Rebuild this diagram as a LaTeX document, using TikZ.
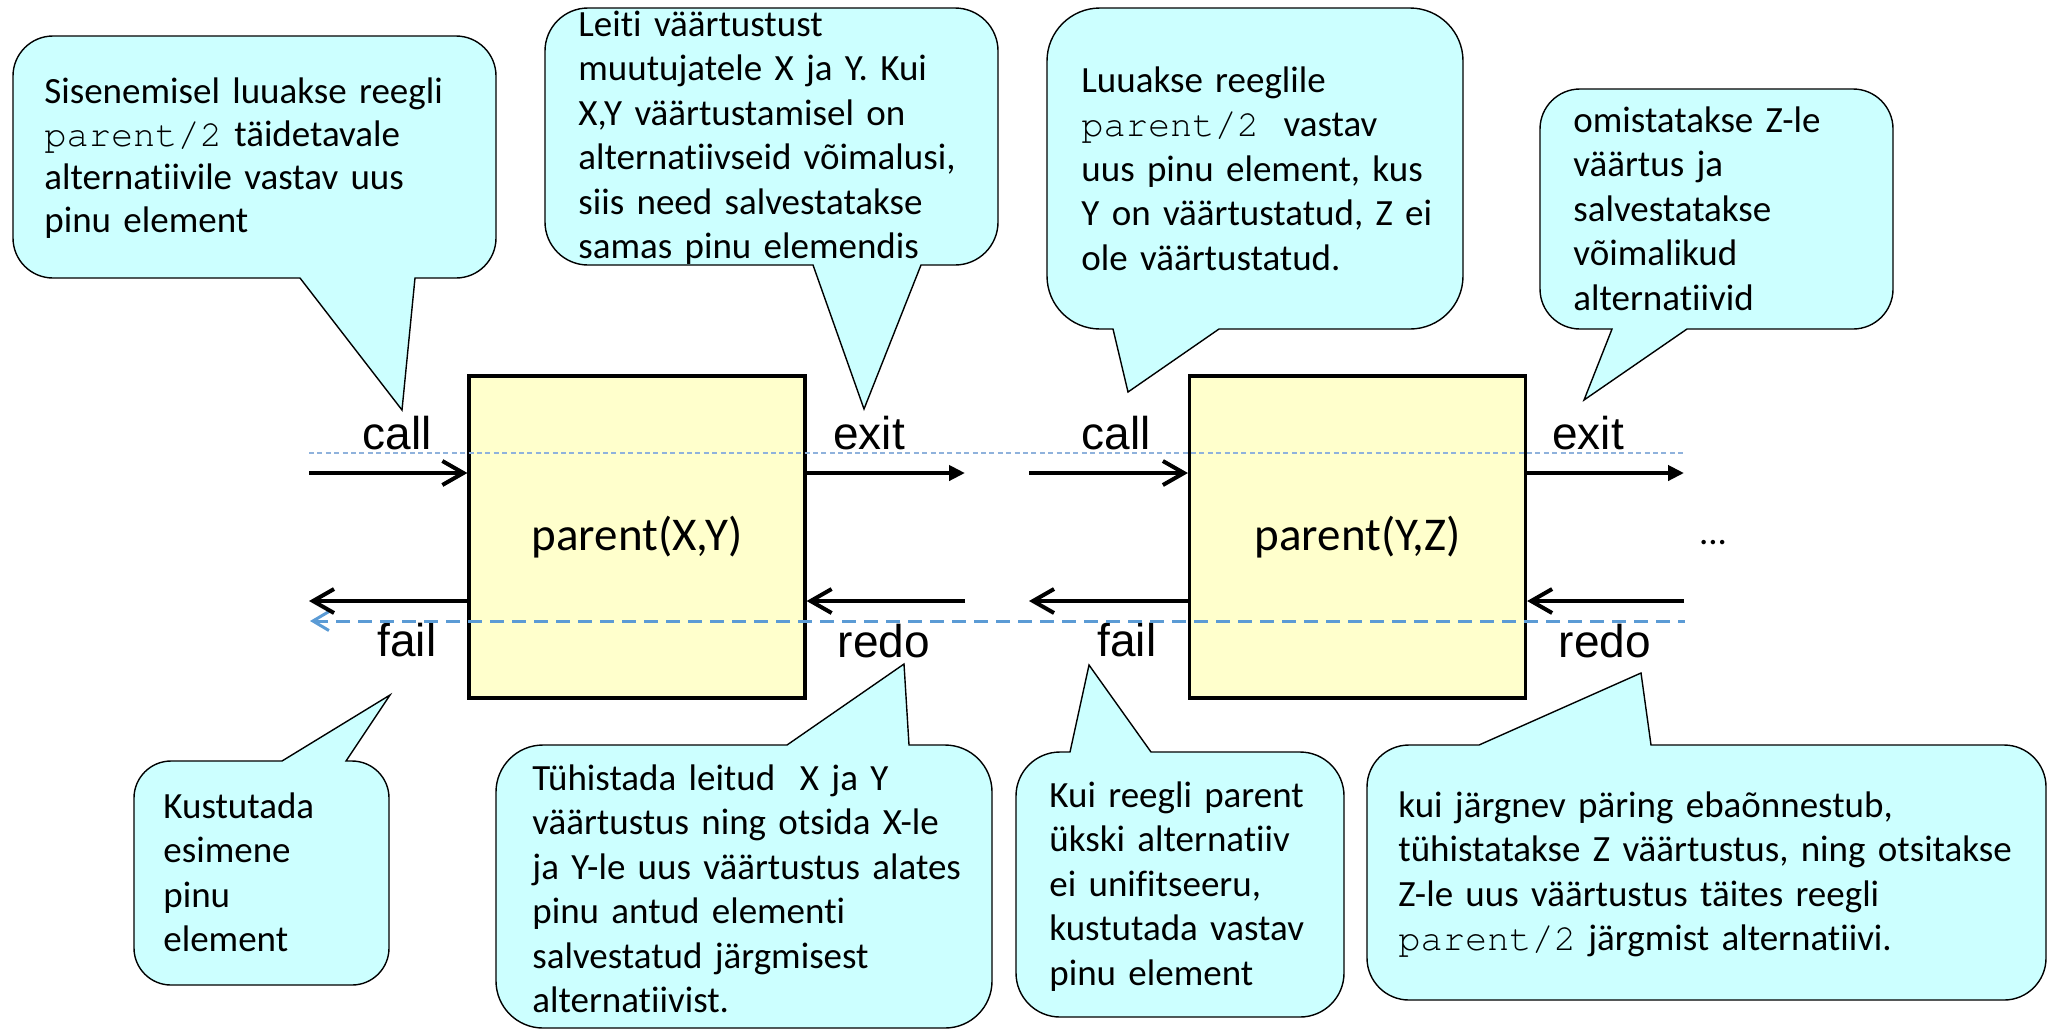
\documentclass[tikz,border=0pt]{standalone}
\usepackage{fontspec}
\setmainfont{Carlito}[Ligatures={NoCommon}]
\newfontfamily\labfont{Liberation Sans}
\newfontfamily\monofont{texgyrecursor-regular.otf}
\usetikzlibrary{arrows.meta}
\definecolor{callfill}{HTML}{CCFFFF}
\definecolor{boxfill}{HTML}{FFFFCC}
\definecolor{dotblue}{RGB}{143,178,220}
\definecolor{dashblue}{HTML}{5B9BD5}
\newcommand\mono[1]{{\monofont #1}}
% tail on bottom edge: l t r b x1 x2 tipx tipy R
\newcommand\calloutdown[9]{%
 \draw[callout] (#5,#4) -- (#7,#8) -- (#6,#4) -- ({#3-#9},#4) .. controls ({#3-0.448*#9},#4) and (#3,{#4-0.448*#9}) .. (#3,{#4-#9}) -- (#3,{#2+#9}) .. controls (#3,{#2+0.448*#9}) and ({#3-0.448*#9},#2) .. ({#3-#9},#2) -- ({#1+#9},#2) .. controls ({#1+0.448*#9},#2) and (#1,{#2+0.448*#9}) .. (#1,{#2+#9}) -- (#1,{#4-#9}) .. controls (#1,{#4-0.448*#9}) and ({#1+0.448*#9},#4) .. ({#1+#9},#4) -- cycle;}
% tail on top edge: l t r b x1 x2 tipx tipy R
\newcommand\calloutup[9]{%
 \draw[callout] (#5,#2) -- (#7,#8) -- (#6,#2) -- ({#3-#9},#2) .. controls ({#3-0.448*#9},#2) and (#3,{#2+0.448*#9}) .. (#3,{#2+#9}) -- (#3,{#4-#9}) .. controls (#3,{#4-0.448*#9}) and ({#3-0.448*#9},#4) .. ({#3-#9},#4) -- ({#1+#9},#4) .. controls ({#1+0.448*#9},#4) and (#1,{#4-0.448*#9}) .. (#1,{#4-#9}) -- (#1,{#2+#9}) .. controls (#1,{#2+0.448*#9}) and ({#1+0.448*#9},#2) .. ({#1+#9},#2) -- cycle;}
\tikzset{
  callout/.style={draw=black, fill=callfill, line width=0.7pt, line join=miter},
  ctext/.style={anchor=base west, inner sep=0pt, text width=330pt, align=left,
     font=\fontsize{18.5}{22.25}\selectfont},
  ybox/.style={draw=black, fill=boxfill, line width=1.6pt, minimum width=168pt,
     minimum height=161pt, inner sep=0pt, font=\fontsize{23.5}{28}\selectfont},
  port/.style={anchor=base, inner sep=0pt, font=\labfont\fontsize{23}{27}\selectfont},
  arr/.style={line width=2pt, black},
  openhead/.style={-{Straight Barb[length=10.5pt,width=12pt]}},
  fillhead/.style={-{Triangle[length=8pt,width=7.5pt]}},
  dotline/.style={dotblue, line width=1pt, dash pattern=on 2.5pt off 1.7pt},
  dashline/.style={dashblue, line width=1.5pt, dash pattern=on 7pt off 4pt}
}
\begin{document}
\begin{tikzpicture}[x=0.5pt,y=-0.5pt]
\useasboundingbox (0,0) rectangle (2048,1030);

% callout shapes
\calloutdown{13}{36}{496}{278}{300}{415}{402}{410}{40}
\calloutdown{545}{8}{998}{265}{813}{921}{864}{409}{43}
\calloutdown{1047}{8}{1463}{329}{1113}{1219}{1128}{392}{53}
\calloutdown{1540}{89}{1893}{329}{1612}{1687}{1584}{400}{40}
\calloutup{134}{761}{389}{985}{282}{346}{390}{695}{37}
\calloutup{496}{745}{992}{1028}{787}{909}{904}{664}{47}
\calloutup{1016}{752}{1344}{1017}{1070}{1151}{1089}{665}{44}
\calloutup{1367}{745}{2046}{1000}{1479}{1651}{1641}{673}{42}

% callout texts
\node[ctext, font=\fontsize{18.5}{21.5}\selectfont] (t1) at (44,103) {Sisenemisel luuakse reegli\\ \mono{parent/2} täidetavale\\ alternatiivile vastav uus\\ pinu element};
\node[ctext] (t2) at (578,36) {Leiti väärtustust\\ muutujatele X ja Y. Kui\\ X,Y väärtustamisel on\\ alternatiivseid võimalusi,\\ siis need salvestatakse\\ samas pinu elemendis};
\node[ctext] (t3) at (1081,92) {Luuakse reeglile\\ \mono{parent/2}\ \ vastav\\ uus pinu element, kus\\ Y on väärtustatud, Z ei\\ ole väärtustatud.};
\node[ctext] (t4) at (1573,132) {omistatakse Z-le\\ väärtus ja\\ salvestatakse\\ võimalikud\\ alternatiivid};
\node[ctext] (t5) at (163,818) {Kustutada\\ esimene\\ pinu\\ element};
\node[ctext] (t6) at (532,790) {Tühistada leitud\ \ X ja Y\\ väärtustus ning otsida X-le\\ ja Y-le uus väärtustus alates\\ pinu antud elementi\\ salvestatud järgmisest\\ alternatiivist.};
\node[ctext] (t7) at (1049,807) {Kui reegli parent\\ ükski alternatiiv\\ ei unifitseeru,\\ kustutada vastav\\ pinu element};
\node[ctext] (t8) at (1398,817) {kui järgnev päring ebaõnnestub,\\ tühistatakse Z väärtustus, ning otsitakse\\ Z-le uus väärtustus täites reegli\\ \mono{parent/2} järgmist alternatiivi.};

% boxes
\node[ybox] (b1) at (637,537) {parent(X,Y)};
\node[ybox] (b2) at (1357.5,537) {parent(Y,Z)};

% port labels
\node[port] (call1) at (397,449) {call};
\node[port] (exit1) at (869,449) {exit};
\node[port] (fail1) at (407,656) {fail};
\node[port] (redo1) at (884,657) {redo};
\node[port] (call2) at (1116,449) {call};
\node[port] (exit2) at (1588,449) {exit};
\node[port] (fail2) at (1127,656) {fail};
\node[port] (redo2) at (1605,657) {redo};
\node[anchor=base, inner sep=0pt, font=\fontsize{18.5}{22}\selectfont] (dots) at (1713,544) {...};

% guide lines
\coordinate (dotL) at (309,453);
\coordinate (dotR) at (1685,453);
\coordinate (dashL) at (310,621);
\coordinate (dashR) at (1685,621);
\draw[dotline] (dotL) -- (dotR);
\draw[dashline, {Straight Barb[length=8pt,width=9.5pt]}-] (dashL) -- (dashR);

% arrows box 1
\coordinate (in1) at (309,473);
\coordinate (out1) at (965,473);
\coordinate (fl1) at (309,601);
\coordinate (rd1) at (965,601);
\draw[arr, openhead] (in1) -- (b1.west |- in1);
\draw[arr, fillhead] (b1.east |- out1) -- (out1);
\draw[arr, openhead] (b1.west |- fl1) -- (fl1);
\draw[arr, openhead] (rd1) -- (b1.east |- rd1);

% arrows box 2
\coordinate (in2) at (1029,473);
\coordinate (out2) at (1684,473);
\coordinate (fl2) at (1029,601);
\coordinate (rd2) at (1684,601);
\draw[arr, openhead] (in2) -- (b2.west |- in2);
\draw[arr, fillhead] (b2.east |- out2) -- (out2);
\draw[arr, openhead] (b2.west |- fl2) -- (fl2);
\draw[arr, openhead] (rd2) -- (b2.east |- rd2);
\end{tikzpicture}
\end{document}
